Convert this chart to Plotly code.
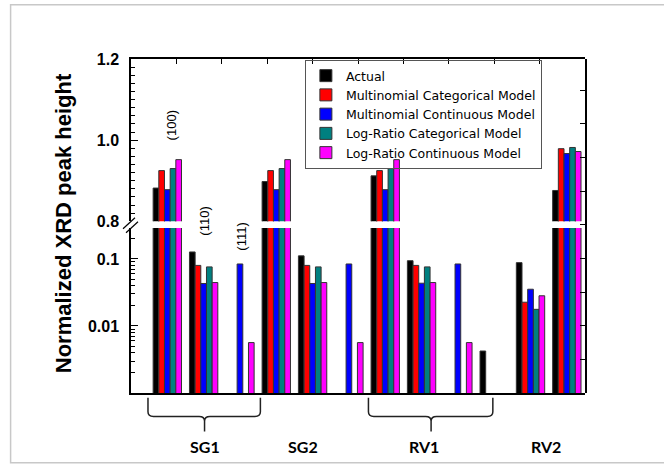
import plotly.graph_objects as go

# ---------------- data ----------------
samples = ["SG1", "SG1", "SG1", "SG2", "SG2", "SG2", "RV1", "RV1", "RV1", "RV2", "RV2", "RV2"]
planes = ["(100)", "(110)", "(111)", "(100)", "(110)", "(111)",
          "(100)", "(110)", "(111)", "(111)", "(110)", "(100)"]
series_names = ["Actual", "Multinomial Categorical Model", "Multinomial Continuous Model",
                "Log-Ratio Categorical Model", "Log-Ratio Continuous Model"]
actual = [0.882, 0.127, None, 0.898, 0.111, None, 0.912, 0.094, None, 0.00423, 0.088, 0.876]
multi_cat = [0.925, 0.080, None, 0.925, 0.080, None, 0.925, 0.080, None, None, 0.0226, 0.979]
multi_cont = [0.878, 0.043, 0.084, 0.878, 0.043, 0.084, 0.878, 0.0434, 0.084, None, 0.0353, 0.967]
lr_cat = [0.930, 0.076, None, 0.930, 0.076, None, 0.930, 0.076, None, None, 0.0177, 0.982]
lr_cont = [0.952, 0.0444, 0.00565, 0.952, 0.0444, 0.00565, 0.952, 0.0444, 0.00565, None, 0.0282, 0.972]
colors = ["#000000", "#FF0000", "#0000FF", "#008080", "#FF00FF"]
group_labels = ["SG1", "SG2", "RV1", "RV2"]
group_label_x = [1.62, 3.79, 6.45, 9.15]
plane_labels = ["(100)", "(110)", "(111)"]
plane_label_x = [0.894, 1.63, 2.445]
plane_label_y = [0.80, 0.513, 0.468]

slot_x = [0.8 * (i + 1) for i in range(len(samples))]
all_series = [actual, multi_cat, multi_cont, lr_cat, lr_cont]

fig = go.Figure()
# lower (log) panel and upper (linear) panel
for panel, yref in (("lower", "y"), ("upper", "y2")):
    for name, vals, col in zip(series_names, all_series, colors):
        fig.add_trace(go.Bar(
            x=slot_x, y=vals, name=name, yaxis=yref, xaxis="x",
            marker=dict(color=col, line=dict(color="#333333", width=1)),
            showlegend=(panel == "upper"), legendgroup=name,
            customdata=[[s, p] for s, p in zip(samples, planes)],
            hovertemplate="%{customdata[0]} %{customdata[1]}: %{y}<extra>" + name + "</extra>",
        ))

# dummy traces to activate frame axes
fig.add_trace(go.Scatter(x=[None], y=[None], xaxis="x", yaxis="y3", showlegend=False, hoverinfo="skip"))
fig.add_trace(go.Scatter(x=[None], y=[None], xaxis="x2", yaxis="y2", showlegend=False, hoverinfo="skip"))

tickfont = dict(family="Liberation Sans, Arial", size=16, color="black", weight="bold")
lower_minor = [m * 10 ** e for e in (-3, -2, -1) for m in range(2, 10) if m * 10 ** e < 0.29]

fig.update_layout(
    width=664, height=468,
    margin=dict(l=131, r=79, t=59, b=75),
    paper_bgcolor="white", plot_bgcolor="rgba(0,0,0,0)",
    barmode="group", bargap=0.219, bargroupgap=0,
    font=dict(family="Liberation Sans, Arial", color="black"),
    xaxis=dict(range=[0, 10], showline=True, linecolor="black", linewidth=1.8,
               ticks="", showticklabels=False, showgrid=False, zeroline=False,
               anchor="y", fixedrange=True),
    xaxis2=dict(range=[0, 10], overlaying="x", side="top", anchor="y2",
                showline=True, linecolor="black", linewidth=1.5,
                ticks="inside", ticklen=5, tickwidth=1.2, tickcolor="black",
                dtick=1, tick0=0, showticklabels=False, showgrid=False, zeroline=False),
    yaxis=dict(domain=[0, 0.494], type="log", range=[-3, -0.539],
               tickvals=[0.01, 0.1], ticktext=["0.01", "0.1"],
               ticks="inside", ticklen=7, tickwidth=1.2, tickcolor="black",
               minor=dict(tickvals=lower_minor, ticks="inside", ticklen=4, tickcolor="black", tickwidth=1),
               showline=True, linecolor="black", linewidth=1.5,
               showgrid=False, zeroline=False, tickfont=tickfont, anchor="x",
               ticklabelstandoff=7),
    yaxis2=dict(domain=[0.514, 1], range=[0.8, 1.2],
                tickvals=[0.8, 1.0, 1.2], ticktext=["0.8", "1.0", "1.2"],
                ticks="inside", ticklen=7, tickwidth=1.2, tickcolor="black",
                minor=dict(dtick=0.02, tick0=0.8, ticks="inside", ticklen=4, tickcolor="black", tickwidth=1),
                showline=True, linecolor="black", linewidth=1.5,
                showgrid=False, zeroline=False, tickfont=tickfont, anchor="x",
                ticklabelstandoff=7),
    yaxis3=dict(domain=[0, 1], type="log", range=[-3, 1.963], anchor="x", side="right",
                tick0=-3, dtick=0.5, ticks="inside", ticklen=5, tickwidth=1.2, tickcolor="black",
                showticklabels=False, showline=True, linecolor="black", linewidth=1.5,
                showgrid=False, zeroline=False),
    legend=dict(x=0.383, y=0.997, xanchor="left", yanchor="top",
                bgcolor="rgba(255,255,255,0)", bordercolor="#555555", borderwidth=1,
                font=dict(family="DejaVu Sans", size=12.5, color="black"),
                traceorder="normal"),
    showlegend=True,
)

# y-axis title
fig.add_annotation(text="Normalized XRD peak height", xref="paper", yref="paper",
                   x=-0.150, y=0.508, xanchor="center", yanchor="middle",
                   textangle=-90, showarrow=False,
                   font=dict(family="Liberation Sans, Arial", size=22, color="black", weight="bold"))

# plane labels
for lab, lx, ly in zip(plane_labels, plane_label_x, plane_label_y):
    fig.add_annotation(text=lab, xref="x", yref="paper", x=lx, y=ly, textangle=-90,
                       xanchor="center", yanchor="middle", showarrow=False,
                       font=dict(family="Liberation Sans, Arial", size=13, color="black"))

# group labels
for lab, gx in zip(group_labels, group_label_x):
    fig.add_annotation(text=lab, xref="x", yref="paper", x=gx, y=-0.16,
                       xanchor="center", yanchor="middle", showarrow=False,
                       font=dict(family="Lato", size=16, color="black", weight="bold"))

# braces
def brace(x0, x1, xc, yt=-0.014, yl=-0.070, yp=-0.115, d=0.12, r=0.014):
    return (f"M {x0},{yt} L {x0},{yl + r} Q {x0},{yl} {x0 + d},{yl} L {xc - d},{yl} "
            f"Q {xc},{yl} {xc},{yl - r} L {xc},{yp} "
            f"M {xc},{yl - r} Q {xc},{yl} {xc + d},{yl} L {x1 - d},{yl} "
            f"Q {x1},{yl} {x1},{yl + r} L {x1},{yt}")

for (x0, x1, xc) in [(0.374, 2.85, 1.62), (5.23, 7.97, 6.61)]:
    fig.add_shape(type="path", xref="x", yref="paper", path=brace(x0, x1, xc),
                  line=dict(color="#222222", width=1.5))

# axis break marks on the left axis
def px2paper(px, py):
    return (px - 131) / 454, (393.3 - py) / 334

for (ax, ay, bx, by) in [(123, 229, 135, 218), (126, 233, 138, 222)]:
    p0 = px2paper(ax, ay)
    p1 = px2paper(bx, by)
    fig.add_shape(type="line", xref="paper", yref="paper", x0=p0[0], y0=p0[1], x1=p1[0], y1=p1[1],
                  line=dict(color="black", width=1.2))

# light slide frame
f0 = px2paper(10.6, 5)
f1 = px2paper(700, 463)
fig.add_shape(type="rect", xref="paper", yref="paper", x0=f0[0], y0=f1[1], x1=f1[0], y1=f0[1],
              line=dict(color="#c8c8c8", width=1.5), layer="below")

fig.write_html("out.html")
